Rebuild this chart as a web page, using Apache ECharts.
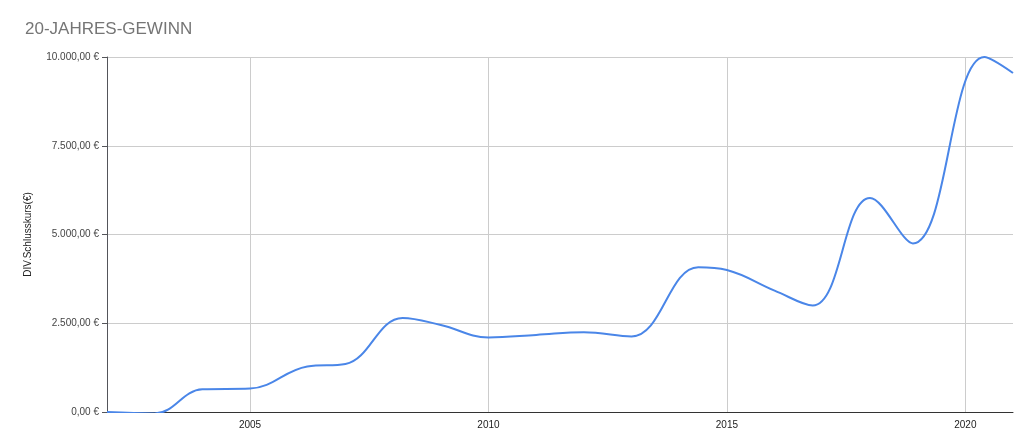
<!DOCTYPE html>
<html><head><meta charset="utf-8">
<script src="https://cdn.jsdelivr.net/npm/echarts@6/dist/echarts.min.js"></script>
<style>html,body{margin:0;background:#fff}#c{width:1024px;height:443px}</style>
</head><body><div id="c"></div>
<script>
const years = [2002,2003,2004,2005,2006.2,2007,2008.2,2009,2010,2011,2012,2013,2014.4,2015,2016,2016.8,2018,2018.9,2020.4,2021];
const values = [0,-40,640,660,1280,1350,2650,2450,2100,2170,2250,2130,4080,4000,3420,3000,6030,4750,10000,9550];
const gridYears = [2005,2010,2015,2020];
const title = "20-JAHRES-GEWINN";
const yName = "DIV.Schlusskurs(€)";
function fmt(v){const s=Math.abs(v).toFixed(2).split('.');return (v<0?'-':'')+s[0].replace(/\B(?=(\d{3})+(?!\d))/g,'.')+','+s[1]+' €';}
const c = echarts.init(document.getElementById('c'));
c.setOption({
  title:{text:title,left:20,top:16,textStyle:{color:'#757575',fontSize:17,fontWeight:'normal',fontFamily:'Arial, Liberation Sans'}},
  grid:{left:107,right:11,top:57,bottom:31},
  xAxis:{type:'value',min:2002,max:2021,interval:1,
    axisLabel:{color:'#222',fontSize:10,formatter:v=>(v%5===0?String(v):'')},
    axisTick:{show:false},axisLine:{show:true,lineStyle:{color:'#333'}},
    splitLine:{show:false}},
  yAxis:{type:'value',min:0,max:10000,interval:2500,name:yName,nameLocation:'middle',nameGap:74,
    nameTextStyle:{color:'#222',fontSize:10},
    axisLabel:{color:'#444',fontSize:10,formatter:fmt},
    splitLine:{lineStyle:{color:'#ccc'}}},
  series:[{type:'line',data:years.map((y,i)=>[y,values[i]]),smooth:0.4,showSymbol:false,z:3,
    lineStyle:{color:'#4a86e8',width:2},itemStyle:{color:'#4a86e8'},
    markLine:{silent:true,symbol:'none',label:{show:false},z:1,
      lineStyle:{color:'#ccc',type:'solid',width:1},
      data:gridYears.map(y=>({xAxis:y}))}}]
});
</script></body></html>
